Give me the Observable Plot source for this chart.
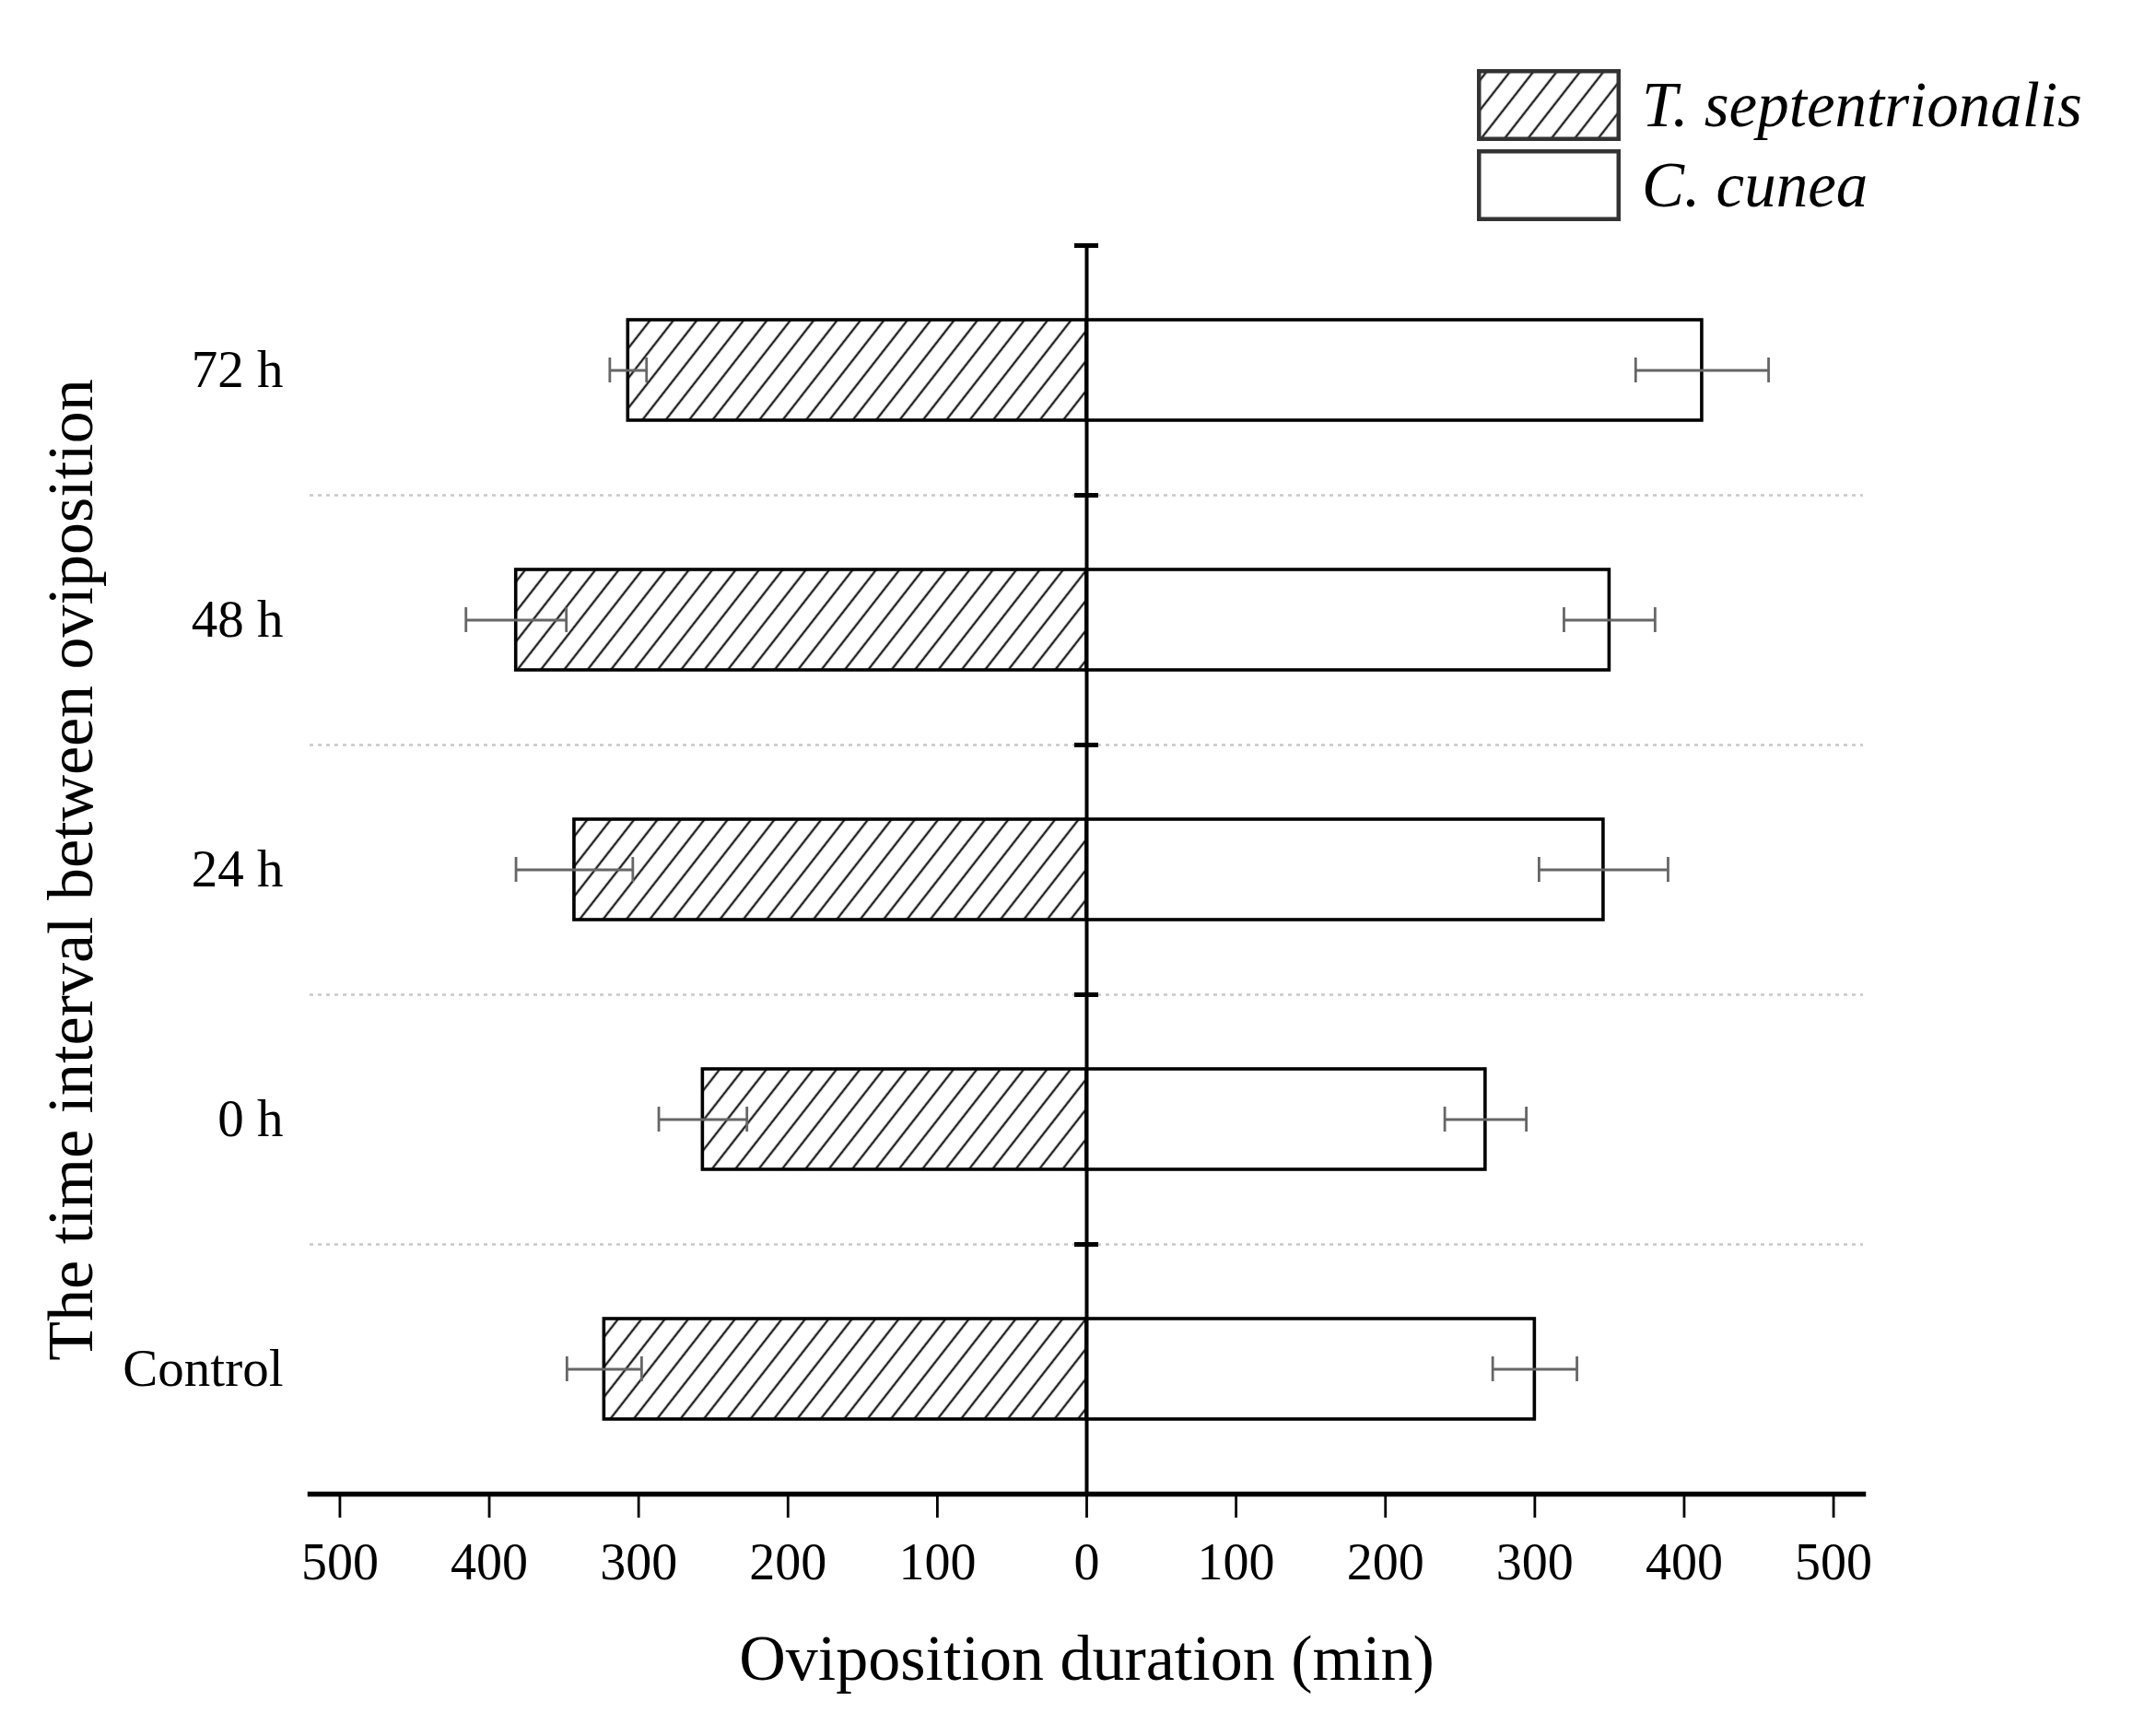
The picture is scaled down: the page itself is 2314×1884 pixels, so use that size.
<!DOCTYPE html>
<html>
<head>
<meta charset="utf-8">
<script src="https://cdn.jsdelivr.net/npm/d3@7"></script>
<script src="https://cdn.jsdelivr.net/npm/@observablehq/plot@0.6"></script>
<style>
  html, body { margin: 0; padding: 0; background: #fff; }
  #wrap { position: relative; width: 2314px; height: 1884px; font-family: "Liberation Serif", "Times New Roman", serif; }
  #legend { position: absolute; left: 1603px; top: 75px; }
  .row { display: flex; align-items: center; height: 78px; margin-bottom: 9px; }
  .row svg { display: block; }
  .row span { margin-left: 23px; font-size: 69px; font-style: italic; line-height: 78px; color: #000; white-space: nowrap; }
  g[aria-label="x-axis label"] text, g[aria-label="y-axis label"] text { font-size: 70px !important; }
</style>
</head>
<body>
<svg width="0" height="0" style="position:absolute">
  <defs>
    <pattern id="hatch" patternUnits="userSpaceOnUse" width="20" height="20" patternTransform="rotate(38)">
      <rect width="20" height="20" fill="white"></rect>
      <line x1="10" y1="-1" x2="10" y2="21" stroke="#222" stroke-width="2.4"></line>
    </pattern>
  </defs>
</svg>
<div id="wrap">
  <div id="chart"></div>
  <div id="legend"></div>
</div>
<script>
// ---- data ----
const categories = ["72 h", "48 h", "24 h", "0 h", "Control"];
const seriesNames = ["T. septentrionalis", "C. cunea"];
const tsMean = [307, 382, 343, 257, 323];   // T. septentrionalis (drawn to the left)
const tsSE   = [12.3, 33.6, 39.1, 29.5, 25];
const ccMean = [412, 350, 346, 267, 300];   // C. cunea (drawn to the right)
const ccSE   = [44.5, 30.5, 43.2, 27.3, 28.2];
const xTicks = [-500, -400, -300, -200, -100, 0, 100, 200, 300, 400, 500];
const xLabel = "Oviposition duration (min)";
const yLabel = "The time interval between oviposition";

const rows = categories.map((c, i) => ({
  cat: c, ts: tsMean[i], tsSE: tsSE[i], cc: ccMean[i], ccSE: ccSE[i]
}));

const W = 2314, H = 1884;
const mTop = 266, mBottom = 263, mLeft = 336, mRight = 292;
const bandH = (H - mTop - mBottom) / categories.length;
const barInset = 81, capInset = 122;
const errColor = "#666666";

const chart = Plot.plot({
  width: W, height: H,
  marginTop: mTop, marginBottom: mBottom, marginLeft: mLeft, marginRight: mRight,
  x: {domain: [-520, 520]},
  y: {domain: categories, padding: 0},
  style: {fontFamily: "Liberation Serif, Times New Roman, serif", background: "white", color: "black"},
  marks: [
    // dotted separators between categories
    Plot.ruleY(categories.slice(1), {y: d => d, dy: -bandH / 2, stroke: "#c8c8c8", strokeWidth: 2.5, strokeDasharray: "4,5"}),
    // bars
    Plot.barX(rows, {y: "cat", x1: 0, x2: d => -d.ts, fill: "url(#hatch)", stroke: "black", strokeWidth: 3.6, insetTop: barInset, insetBottom: barInset}),
    Plot.barX(rows, {y: "cat", x1: 0, x2: "cc", fill: "white", stroke: "black", strokeWidth: 3.6, insetTop: barInset, insetBottom: barInset}),
    // error bars
    Plot.ruleY(rows, {y: "cat", x1: d => -(d.ts - d.tsSE), x2: d => -(d.ts + d.tsSE), stroke: errColor, strokeWidth: 2.8}),
    Plot.tickX(rows, {y: "cat", x: d => -(d.ts - d.tsSE), stroke: errColor, strokeWidth: 2.8, insetTop: capInset, insetBottom: capInset}),
    Plot.tickX(rows, {y: "cat", x: d => -(d.ts + d.tsSE), stroke: errColor, strokeWidth: 2.8, insetTop: capInset, insetBottom: capInset}),
    Plot.ruleY(rows, {y: "cat", x1: d => d.cc - d.ccSE, x2: d => d.cc + d.ccSE, stroke: errColor, strokeWidth: 2.8}),
    Plot.tickX(rows, {y: "cat", x: d => d.cc - d.ccSE, stroke: errColor, strokeWidth: 2.8, insetTop: capInset, insetBottom: capInset}),
    Plot.tickX(rows, {y: "cat", x: d => d.cc + d.ccSE, stroke: errColor, strokeWidth: 2.8, insetTop: capInset, insetBottom: capInset}),
    // central zero axis with small ticks
    Plot.ruleX([0], {stroke: "black", strokeWidth: 4}),
    Plot.ruleY(categories, {y: d => d, x1: 0, x2: 0, dy: -bandH / 2, insetLeft: -13, insetRight: -13, stroke: "black", strokeWidth: 5}),
    // bottom axis line
    Plot.frame({anchor: "bottom", stroke: "black", strokeWidth: 5.5}),
    Plot.axisX({ticks: xTicks, tickFormat: d => Math.abs(d), tickSize: 26, tickPadding: 27, strokeWidth: 2.8, fontSize: 56,
      label: xLabel, labelAnchor: "center", labelOffset: 201, labelArrow: false}),
    Plot.axisY({tickSize: 0, tickPadding: 29, fontSize: 57,
      label: yLabel, labelAnchor: "center", labelOffset: 286, labelArrow: false})
  ]
});
document.getElementById("chart").appendChild(chart);

// legend
const legend = document.getElementById("legend");
seriesNames.forEach((name, i) => {
  const row = document.createElement("div");
  row.className = "row";
  const fill = i === 0 ? "url(#hatch)" : "white";
  row.innerHTML = `<svg width="156" height="78"><rect x="2.25" y="2.25" width="151.5" height="73.5" fill="${fill}" stroke="#333" stroke-width="4.5"></rect></svg><span>${name}</span>`;
  legend.appendChild(row);
});
</script>
</body>
</html>
